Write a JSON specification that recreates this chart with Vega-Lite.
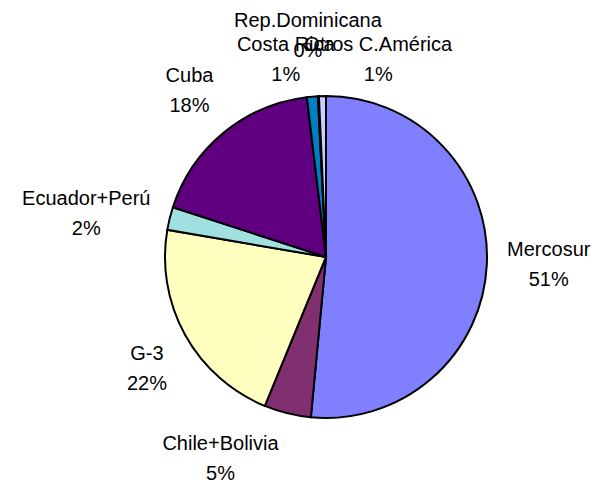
{
  "$schema": "https://vega.github.io/schema/vega-lite/v6.json",
  "autosize": "none",
  "width": 560,
  "height": 462,
  "padding": {"left": 46, "top": 26, "right": 0, "bottom": 0},
  "background": "white",
  "config": {"view": {"stroke": null}},
  "data": {
    "values": [
      {"name": "Mercosur", "label": "Mercosur\n51%", "value": 51.5, "order": 1},
      {"name": "Chile+Bolivia", "label": "Chile+Bolivia\n5%", "value": 4.7, "order": 2},
      {"name": "G-3", "label": "G-3\n22%", "value": 21.5, "order": 3},
      {"name": "Ecuador+Perú", "label": "Ecuador+Perú\n2%", "value": 2.3, "order": 4},
      {"name": "Cuba", "label": "Cuba\n18%", "value": 18.1, "order": 5},
      {"name": "Costa Rica", "label": "Costa Rica\n1%", "value": 1.1, "order": 6},
      {"name": "Rep.Dominicana", "label": "Rep.Dominicana\n0%", "value": 0.1, "order": 7},
      {"name": "Otros C.América", "label": "Otros C.América\n1%", "value": 0.7, "order": 8}
    ]
  },
  "transform": [
    {"stack": "value", "groupby": [], "sort": [{"field": "order", "order": "ascending"}], "as": ["v0", "v1"]},
    {"calculate": "(datum.v0 + datum.v1) / 2", "as": "mid"}
  ],
  "layer": [
    {
      "mark": {"type": "arc", "outerRadius": 161, "stroke": "black", "strokeWidth": 2},
      "encoding": {
        "theta": {"field": "v0", "type": "quantitative", "stack": null, "scale": {"domain": [0, 100]}},
        "theta2": {"field": "v1"},
        "color": {
          "field": "name", "type": "nominal", "legend": null,
          "scale": {
            "domain": ["Mercosur", "Chile+Bolivia", "G-3", "Ecuador+Perú", "Cuba", "Costa Rica", "Rep.Dominicana", "Otros C.América"],
            "range": ["#8080FF", "#80306E", "#FFFFC0", "#A0E0E0", "#600080", "#0080C0", "#FF8080", "#CCCCFF"]
          }
        },
        "order": {"field": "order"}
      }
    },
    {
      "transform": [{"filter": {"field": "name", "equal": "Cuba"}}],
      "mark": {"type": "text", "radius": 215, "dy": -15, "fontSize": 20, "font": "Liberation Sans", "lineBreak": "\n", "lineHeight": 30, "align": "center", "baseline": "middle", "color": "black"},
      "encoding": {"theta": {"field": "mid", "type": "quantitative"}, "text": {"field": "label"}}
    },
    {
      "transform": [{"filter": {"field": "name", "equal": "G-3"}}],
      "mark": {"type": "text", "radius": 215, "dx": 9, "dy": -7, "fontSize": 20, "font": "Liberation Sans", "lineBreak": "\n", "lineHeight": 30, "align": "center", "baseline": "middle", "color": "black"},
      "encoding": {"theta": {"field": "mid", "type": "quantitative"}, "text": {"field": "label"}}
    },
    {
      "transform": [{"filter": {"field": "name", "equal": "Mercosur"}}],
      "mark": {"type": "text", "radius": 215, "dx": 8, "dy": -17, "fontSize": 20, "font": "Liberation Sans", "lineBreak": "\n", "lineHeight": 30, "align": "center", "baseline": "middle", "color": "black"},
      "encoding": {"theta": {"field": "mid", "type": "quantitative"}, "text": {"field": "label"}}
    },
    {
      "transform": [{"filter": {"field": "name", "equal": "Chile+Bolivia"}}],
      "mark": {"type": "text", "radius": 215, "dx": -54, "dy": -22, "fontSize": 20, "font": "Liberation Sans", "lineBreak": "\n", "lineHeight": 30, "align": "center", "baseline": "middle", "color": "black"},
      "encoding": {"theta": {"field": "mid", "type": "quantitative"}, "text": {"field": "label"}}
    },
    {
      "transform": [{"filter": {"field": "name", "equal": "Ecuador+Perú"}}],
      "mark": {"type": "text", "radius": 215, "dx": -31, "dy": -6, "fontSize": 20, "font": "Liberation Sans", "lineBreak": "\n", "lineHeight": 30, "align": "center", "baseline": "middle", "color": "black"},
      "encoding": {"theta": {"field": "mid", "type": "quantitative"}, "text": {"field": "label"}}
    },
    {
      "transform": [{"filter": {"field": "name", "equal": "Rep.Dominicana"}}],
      "mark": {"type": "text", "radius": 215, "dx": -8, "dy": -21, "fontSize": 20, "font": "Liberation Sans", "lineBreak": "\n", "lineHeight": 30, "align": "center", "baseline": "middle", "color": "black"},
      "encoding": {"theta": {"field": "mid", "type": "quantitative"}, "text": {"field": "label"}}
    },
    {
      "transform": [{"filter": {"field": "name", "equal": "Costa Rica"}}],
      "mark": {"type": "text", "radius": 215, "dx": -22, "dy": 2, "fontSize": 20, "font": "Liberation Sans", "lineBreak": "\n", "lineHeight": 30, "align": "center", "baseline": "middle", "color": "black"},
      "encoding": {"theta": {"field": "mid", "type": "quantitative"}, "text": {"field": "label"}}
    },
    {
      "transform": [{"filter": {"field": "name", "equal": "Otros C.América"}}],
      "mark": {"type": "text", "radius": 215, "dx": 57, "dy": 3, "fontSize": 20, "font": "Liberation Sans", "lineBreak": "\n", "lineHeight": 30, "align": "center", "baseline": "middle", "color": "black"},
      "encoding": {"theta": {"field": "mid", "type": "quantitative"}, "text": {"field": "label"}}
    }
  ]
}
